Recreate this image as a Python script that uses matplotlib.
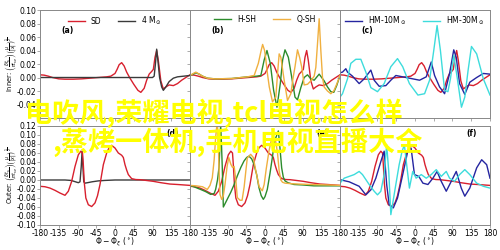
import numpy as np
import matplotlib
matplotlib.use("Agg")
import matplotlib.pyplot as plt

plt.rcParams["axes.unicode_minus"] = False
plt.rcParams["font.size"] = 5.5

# ---- data (phase in degrees, amplitude) ----
# inner row
sd_in_phi = [-180, -170, -160, -150, -135, -120, -100, -80, -60, -40, -20, -10, 0, 5, 10, 16, 22, 28, 35,
             45, 55, 62, 70, 76, 82, 88, 92, 96, 100, 104, 110, 116, 122, 130, 140, 150, 160, 170, 180]
sd_in = [0.004, 0.0035, 0.002, 0.0, -0.002, -0.0025, -0.0025, -0.002, -0.001, 0.0, 0.001, 0.002, 0.006,
         0.012, 0.019, 0.022, 0.017, 0.008, 0.0, -0.010, -0.019, -0.022, -0.016, -0.004, 0.005, 0.009,
         0.012, 0.030, 0.040, 0.025, -0.005, -0.017, -0.014, -0.011, -0.012, -0.009, -0.004, 0.0, 0.004]

m4_in_phi = [-180, 90, 94, 97, 100, 103, 107, 112, 116, 122, 130, 140, 150, 165, 180]
m4_in = [0.0, 0.0, 0.002, 0.02, 0.042, 0.025, 0.0, -0.014, -0.019, -0.014, -0.006, -0.001, 0.001, 0.002, 0.003]

hsh_in_phi = [-180, -172, -166, -158, -150, -138, -120, -80, -42, -20, -10, -2, 4.7, 12.7, 20.7, 28.7, 36.7,
              42.3, 48, 56, 64, 72, 78, 86, 94, 102, 110, 118, 126, 130, 136, 142, 150, 158, 165, 172, 180]
hsh_in = [0.003, 0.005, 0.007, 0.005, 0.002, -0.001, -0.002, -0.0015, 0.001, 0.002, 0.003, 0.026, 0.040,
          0.021, -0.019, -0.044, -0.009, 0.026, 0.041, 0.030, 0.001, -0.029, -0.033, -0.015, 0.0, 0.004,
          -0.002, -0.004, 0.002, 0.005, 0.0, -0.005, -0.014, -0.021, -0.022, -0.012, 0.003]

qsh_in_phi = [-180, -172, -166, -158, -150, -138, -120, -80, -42, -26, -16, -10, -5.7, -1, 2.3, 6, 10.3, 18,
              26, 30, 34, 38, 46, 54, 62, 67, 72, 78, 83, 88, 94, 102, 110, 118, 122, 126, 130, 134, 138,
              142, 150, 158, 165, 172, 180]
qsh_in = [0.003, 0.006, 0.008, 0.005, 0.002, -0.001, -0.002, -0.0015, 0.001, 0.003, 0.021, 0.038, 0.049,
          0.040, 0.025, 0.005, -0.014, -0.036, -0.029, 0.005, 0.035, 0.030, -0.004, -0.034, -0.024, -0.002,
          0.016, 0.041, 0.030, 0.016, -0.011, -0.010, -0.005, 0.002, 0.015, 0.050, 0.087, 0.040, 0.0,
          -0.014, -0.020, -0.024, -0.020, -0.010, 0.003]

hm10_in_phi = [-180, -174, -166, -162, -150, -134, -122, -106, -98, -86, -70, -58, -46, -21.5, 11, 27, 39,
               47, 59, 71, 83, 93, 99, 107, 119.5, 131.5, 148, 164, 180]
hm10_in = [0.007, 0.008, 0.013, 0.008, 0.002, -0.009, -0.002, 0.011, -0.004, -0.013, -0.012, -0.004, 0.003,
           0.0, -0.004, 0.001, 0.023, 0.003, -0.014, -0.024, 0.006, 0.041, 0.030, -0.009, -0.025, -0.007,
           0.0, 0.006, 0.005]

hm30_in_phi = [-180, -174, -162, -154, -142, -130, -118, -106, -90, -74, -58, -42, -29.5, -13.4, 7, 23, 35,
               45, 53, 61, 71, 79, 85, 93, 101, 111.5, 119.5, 127.5, 135.5, 148, 164, 180]
hm30_in = [-0.029, -0.024, -0.002, 0.021, 0.027, 0.027, 0.008, -0.015, -0.021, -0.009, 0.016, 0.028, 0.016,
           -0.009, -0.026, -0.024, -0.004, 0.040, 0.077, 0.040, -0.019, -0.021, -0.002, 0.033, 0.001,
           -0.044, -0.029, 0.011, 0.046, 0.035, -0.002, -0.026]

# outer row
sd_out_phi = [-180, -168, -156, -144, -132, -120, -112, -104, -96, -88, -82, -78, -76, -73.6, -70, -64, -56,
              -48, -42, -36, -28, -20, -14, -8, 0, 8, 16, 20, 24, 28, 32, 40, 50, 60, 75, 92, 110, 132,
              150, 165, 180]
sd_out = [-0.014, -0.015, -0.018, -0.023, -0.029, -0.034, -0.025, -0.003, 0.030, 0.056, 0.064, 0.060, 0.034,
          -0.007, -0.040, -0.055, -0.059, -0.051, -0.035, -0.010, 0.034, 0.060, 0.072, 0.077, 0.071, 0.060,
          0.055, 0.050, 0.034, 0.022, 0.012, 0.003, 0.001, 0.0007, -0.001, -0.003, -0.006, -0.009, -0.010,
          -0.011, -0.012]

m4_out_phi = [-180, -120, -105, -95, -88, -84, -81, -79, -77, -75, -72, -66, -55, -40, -25, 0, 180]
m4_out = [0.0, 0.0, -0.001, -0.004, -0.006, -0.004, 0.030, 0.064, 0.030, -0.004, -0.007, -0.006, -0.004,
          -0.002, -0.001, 0.0, 0.0]

hsh_out_phi = [-180, -168, -154.5, -142, -130.5, -122, -118.5, -114, -110.5, -108, -106.5, -104.5, -102.5,
               -100, -94.5, -88, -82.5, -74, -66.5, -58, -50.5, -44, -38.5, -32, -26.5, -20, -14.5, -9, -4,
               0, 5.5, 12, 17.5, 22, 26, 32, 36, 40, 44, 48, 55, 69.5, 90, 117.5, 150, 180]
hsh_out = [-0.012, -0.016, -0.021, -0.026, -0.032, -0.030, -0.021, 0.000, 0.027, 0.080, 0.124, 0.080, 0.027,
           -0.060, -0.050, -0.038, -0.028, -0.010, 0.009, 0.028, 0.042, 0.050, 0.053, 0.047, 0.035, 0.012,
           -0.017, -0.035, -0.043, -0.037, -0.021, 0.015, 0.049, 0.080, 0.094, 0.109, 0.070, 0.027, 0.006,
           -0.002, -0.006, -0.010, -0.011, -0.013, -0.013, -0.013]

qsh_out_phi = [-180, -165, -150, -138.5, -132, -126.5, -122, -118.5, -114.5, -112, -110.5, -108, -104, -100,
               -96, -91, -87, -82, -78, -74, -70, -66.5, -60, -55, -50, -46, -42.5, -34.5, -28, -22, -14,
               -6.5, -2, 3, 9.5, 15, 20, 25, 30, 34, 38, 42, 48, 60, 80, 110, 150, 180]
qsh_out = [-0.012, -0.013, -0.015, -0.021, -0.012, 0.005, 0.045, 0.094, 0.131, 0.080, 0.027, -0.032, -0.043,
           -0.035, -0.010, 0.030, 0.050, 0.035, 0.028, 0.030, 0.000, -0.039, -0.045, -0.045, -0.015, 0.020,
           0.049, 0.057, 0.050, 0.020, -0.015, -0.024, -0.010, 0.025, 0.064, 0.088, 0.094, 0.090, 0.060,
           0.020, 0.000, -0.005, -0.007, -0.008, -0.009, -0.010, -0.011, -0.012]

hm10_out_phi = [-180, -158, -134, -118, -106, -94, -82, -74, -68, -62, -52, -42, -29.5, -17.4, -9.4, -1.3,
                9.1, 19, 31, 43, 53, 63, 75, 87, 99, 111, 119.5, 131.5, 148, 160, 172, 180]
hm10_out = [0.0006, -0.004, -0.014, -0.033, -0.022, 0.004, 0.041, 0.064, -0.010, -0.055, -0.062, -0.040,
            0.012, 0.064, 0.071, 0.012, 0.008, -0.007, -0.010, 0.004, 0.019, -0.003, -0.025, -0.003, 0.019,
            -0.018, -0.036, -0.018, 0.027, 0.045, 0.034, 0.004]

hm30_out_phi = [-180, -170, -158, -146, -134, -126, -118, -110, -98, -90, -82, -74, -68, -63, -58, -54, -46,
                -38, -31, -25.5, -20, -13.4, -5.4, 2.7, 15, 27, 39, 51, 63, 75, 83, 95, 107, 119.5, 131.5,
                148, 164, 180]
hm30_out = [-0.007, 0.004, 0.008, 0.012, 0.019, 0.012, 0.001, -0.010, -0.025, -0.033, -0.025, 0.012, 0.078,
            0.019, -0.077, -0.055, -0.010, 0.034, 0.064, 0.078, 0.034, -0.018, 0.019, 0.004, 0.012, 0.004,
            0.012, 0.023, 0.008, 0.019, 0.004, -0.003, 0.012, 0.023, 0.012, -0.007, -0.014, -0.018]

phi_ticks = [-180, -135, -90, -45, 0, 45, 90, 135, 180]

RED = "#d8202e"
DARK = "#3a3a3a"
GREEN = "#2c8c2c"
GOLD = "#f0b040"
NAVY = "#2525a0"
CYAN = "#3ddcdc"

fig = plt.figure(figsize=(5, 2.5), dpi=100)
gs = fig.add_gridspec(2, 3, left=0.08, right=0.98, top=0.96, bottom=0.10,
                      hspace=0.077, wspace=0.0, height_ratios=[108, 99])
axes = np.empty((2, 3), dtype=object)
for r in range(2):
    for c in range(3):
        axes[r, c] = fig.add_subplot(gs[r, c])

inner_label = r"Inner: $\left(\frac{\delta t_s}{\pi t_{se}}\right)\left(\frac{\mu}{|x|}\right)^{\frac{1}{2}}$"
outer_label = r"Outer: $\left(\frac{\delta t_s}{\pi t_{se}}\right)\left(\frac{\mu}{|x|}\right)^{\frac{1}{2}}$"

lw = 1.0
# (a)
ax = axes[0, 0]
ax.plot(sd_in_phi, sd_in, color=RED, lw=lw, label="SD")
ax.plot(m4_in_phi, m4_in, color=DARK, lw=lw, label=r"4 M$_\odot$")
# (b)
ax = axes[0, 1]
ax.plot(sd_in_phi, sd_in, color=RED, lw=lw)
ax.plot(hsh_in_phi, hsh_in, color=GREEN, lw=lw, label="H-SH")
ax.plot(qsh_in_phi, qsh_in, color=GOLD, lw=lw, label="Q-SH")
# (c)
ax = axes[0, 2]
ax.plot(sd_in_phi, sd_in, color=RED, lw=lw)
ax.plot(hm10_in_phi, hm10_in, color=NAVY, lw=lw, label=r"HM-10M$_\odot$")
ax.plot(hm30_in_phi, hm30_in, color=CYAN, lw=lw, label=r"HM-30M$_\odot$")
# (d)
ax = axes[1, 0]
ax.plot(m4_out_phi, m4_out, color=DARK, lw=lw)
ax.plot(sd_out_phi, sd_out, color=RED, lw=lw)
# (e)
ax = axes[1, 1]
ax.plot(sd_out_phi, sd_out, color=RED, lw=lw)
ax.plot(hsh_out_phi, hsh_out, color=GREEN, lw=lw)
ax.plot(qsh_out_phi, qsh_out, color=GOLD, lw=lw)
# (f)
ax = axes[1, 2]
ax.plot(sd_out_phi, sd_out, color=RED, lw=lw)
ax.plot(hm10_out_phi, hm10_out, color=NAVY, lw=lw)
ax.plot(hm30_out_phi, hm30_out, color=CYAN, lw=lw)

panel_tags = ["(a)", "(b)", "(c)", "(d)", "(e)", "(f)"]
for i, ax in enumerate(axes.flat):
    r, c = divmod(i, 3)
    ax.set_xlim(-180, 180)
    ax.set_xticks(phi_ticks)
    if r == 0:
        ax.set_ylim(-0.06, 0.10)
        ax.set_yticks(np.arange(-0.04, 0.101, 0.02))
        ax.set_xticklabels([])
        ax.text(0.14, 0.79, panel_tags[i], transform=ax.transAxes, fontsize=5.5, fontweight="bold")
        ax.legend(loc="upper center", bbox_to_anchor=(0.5, 1.02), ncol=2, frameon=False,
                  fontsize=5.5, handlelength=2.2, columnspacing=2.2)
    else:
        ax.set_ylim(-0.10, 0.12)
        ax.set_yticks(np.arange(-0.10, 0.121, 0.02))
        labels = [str(t) for t in phi_ticks]
        if c < 2:
            labels[-1] = ""
        ax.set_xticklabels(labels)
        ax.set_xlabel(r"$\Phi - \Phi_\xi$ ($^\circ$)", fontsize=5.5)
        ax.xaxis.set_label_coords(0.5, -0.11)
        ax.text(0.84, 0.90, panel_tags[i], transform=ax.transAxes, fontsize=5.5, fontweight="bold")
    if c == 0:
        ax.yaxis.set_major_formatter(matplotlib.ticker.FormatStrFormatter("%.2f"))
    else:
        ax.set_yticklabels([])
    for s in ax.spines.values():
        s.set_color("#888888")
        s.set_linewidth(0.7)
    ax.tick_params(length=2, width=0.5, color="#888888", pad=0.8, labelsize=5.5)

axes[0, 0].set_ylabel(inner_label, fontsize=4.8)
axes[0, 0].yaxis.set_label_coords(-0.135, 0.5)
axes[1, 0].set_ylabel(outer_label, fontsize=4.8)
axes[1, 0].yaxis.set_label_coords(-0.135, 0.5)

# yellow overlay text
cjk = ["Noto Sans CJK SC", "DejaVu Sans"]
fig.text(0.428, 0.548, "电吹风,荣耀电视,tcl电视怎么样", family=cjk, fontsize=19.5, fontweight="bold",
         color="#ffff00", ha="center", va="center", zorder=10)
fig.text(0.476, 0.432, ",蒸烤一体机,手机电视直播大全", family=cjk, fontsize=19.5, fontweight="bold",
         color="#ffff00", ha="center", va="center", zorder=10)

fig.savefig("out.png", dpi=100)
